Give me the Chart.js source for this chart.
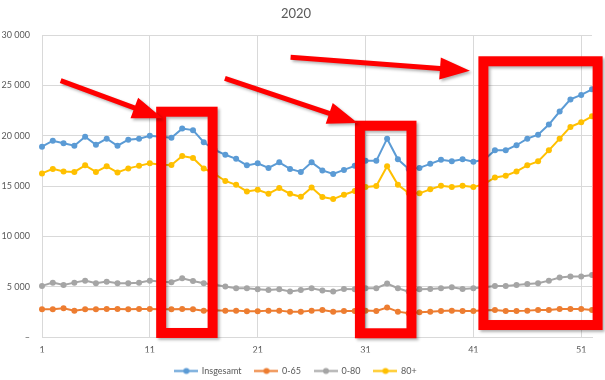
<!DOCTYPE html>
<html><head><meta charset="utf-8">
<script src="https://cdn.jsdelivr.net/npm/chart.js@4/dist/chart.umd.min.js"></script>
<style>html,body{margin:0;padding:0;background:#fff}#wrap{width:605px;height:380px}</style>
</head><body><div id="wrap"><canvas id="c" width="605" height="380"></canvas></div>
<script>
const weeks = ['1','2','3','4','5','6','7','8','9','10','11','12','13','14','15','16','17','18','19','20','21','22','23','24','25','26','27','28','29','30','31','32','33','34','35','36','37','38','39','40','41','42','43','44','45','46','47','48','49','50','51','52'];
const xTickLabels = ['1','11','21','31','41','51'];
const seriesNames = ['Insgesamt','0-65','0-80','80+'];
const insgesamt = [18900,19500,19250,19000,19900,19100,19700,19000,19600,19700,20000,19900,19800,20700,20550,19350,18600,18100,17700,17050,17250,16800,17350,16700,16400,17350,16550,16200,16600,17000,17500,17500,19700,17650,16700,16800,17200,17600,17450,17650,17400,17600,18550,18550,19050,19700,20100,21100,22400,23600,24050,24600];
const age0_65 = [2750,2750,2850,2620,2750,2750,2780,2780,2750,2780,2780,2750,2750,2780,2750,2620,2650,2620,2620,2550,2550,2620,2620,2520,2520,2620,2690,2520,2580,2580,2620,2580,2920,2520,2350,2450,2520,2580,2620,2580,2580,2650,2690,2580,2580,2620,2690,2690,2780,2780,2780,2690];
const age0_80 = [5075,5400,5170,5400,5600,5340,5500,5340,5340,5400,5600,5500,5440,5840,5570,5340,5200,5010,4840,4840,4740,4670,4740,4510,4670,4840,4610,4510,4780,4740,4840,4840,5310,4840,4510,4740,4780,4840,4940,4780,4840,4950,5075,5075,5170,5270,5340,5600,5900,6000,6000,6170];
const age80plus = [16250,16700,16450,16400,17050,16400,16950,16350,16750,17000,17250,17100,17080,17980,17780,16750,16200,15500,15120,14460,14630,14230,14790,14230,13930,14850,13900,13700,14130,14500,14900,15000,16950,15120,14300,14270,14670,15020,14890,15020,14890,15200,15850,16020,16450,17050,17450,18540,19700,20870,21330,21920];
const colors = ['#5B9BD5','#ED7D31','#A5A5A5','#FFC000'];
// annotation boxes: [weekLeft, weekRight, valueTop, valueBottom]
const boxes = [[12.05,16.82,22380,400],[30.48,35.26,20990,370],[41.93,52.52,27390,1190]];
// annotation arrows: [weekStart, valueStart, weekTip, valueTip]
const arrows = [[2.73,25460,12.17,21720],[17.96,25700,30.27,21260],[24.05,27780,40.68,26450]];

const FONT = 'Lato, "Open Sans", sans-serif';
const TXT = '#595959';

function legendIcon(color){
  const c = document.createElement('canvas');
  c.width = 24; c.height = 9;
  const g = c.getContext('2d');
  g.strokeStyle = color; g.lineWidth = 2;
  g.beginPath(); g.moveTo(0,4.5); g.lineTo(24,4.5); g.stroke();
  g.fillStyle = color; g.beginPath(); g.arc(12,4.5,3,0,Math.PI*2); g.fill();
  return c;
}
const icons = colors.map(legendIcon);

const annot = {
  id:'annot',
  afterDraw(chart){
    const {ctx, scales:{x,y}} = chart;
    ctx.save();
    ctx.shadowColor = 'rgba(0,0,0,0.3)';
    ctx.shadowBlur = 3; ctx.shadowOffsetX = 2; ctx.shadowOffsetY = 2;
    ctx.strokeStyle = '#FF0000'; ctx.fillStyle = '#FF0000';
    ctx.lineWidth = 10; ctx.lineJoin = 'miter';
    boxes.forEach(b=>{
      const l = x.getPixelForValue(b[0]-1), r = x.getPixelForValue(b[1]-1);
      const t = y.getPixelForValue(b[2]), bo = y.getPixelForValue(b[3]);
      ctx.strokeRect(l,t,r-l,bo-t);
    });
    arrows.forEach(a=>{
      const x0 = x.getPixelForValue(a[0]-1), y0 = y.getPixelForValue(a[1]);
      const x1 = x.getPixelForValue(a[2]-1), y1 = y.getPixelForValue(a[3]);
      const ang = Math.atan2(y1-y0, x1-x0);
      const hl = 30, hw = 11, sw = 5;
      const cos = Math.cos(ang), sin = Math.sin(ang);
      const bx = x1 - hl*cos, by = y1 - hl*sin;
      ctx.beginPath();
      ctx.moveTo(x0 - sw/2*(-sin), y0 - sw/2*cos);
      ctx.lineTo(bx - sw/2*(-sin), by - sw/2*cos);
      ctx.lineTo(bx - hw*(-sin), by - hw*cos);
      ctx.lineTo(x1, y1);
      ctx.lineTo(bx + hw*(-sin), by + hw*cos);
      ctx.lineTo(bx + sw/2*(-sin), by + sw/2*cos);
      ctx.lineTo(x0 + sw/2*(-sin), y0 + sw/2*cos);
      ctx.closePath();
      ctx.fill();
    });
    ctx.restore();
  }
};

const values = [insgesamt, age0_65, age0_80, age80plus];
new Chart(document.getElementById('c'), {
  type:'line',
  data:{
    labels: weeks,
    datasets: seriesNames.map((n,i)=>({
      label:n, data:values[i], borderColor:colors[i], backgroundColor:colors[i],
      borderWidth:2, pointRadius:3, pointBorderWidth:0, pointBackgroundColor:colors[i],
      tension:0, fill:false
    }))
  },
  options:{
    responsive:false, animation:false, devicePixelRatio:1,
    layout:{padding:{left:0,right:13,top:0,bottom:0}},
    plugins:{
      title:{display:true, text:'2020', color:TXT, font:{family:FONT,size:13,weight:'normal'}, padding:{top:6,bottom:13.4}},
      legend:{position:'bottom', maxHeight:27.5,
        labels:{usePointStyle:true, pointStyleWidth:22, padding:14, color:TXT, font:{family:FONT,size:9},
          generateLabels(chart){
            return chart.data.datasets.map((d,i)=>({text:d.label, pointStyle:icons[i], fillStyle:colors[i], strokeStyle:colors[i], lineWidth:0, fontColor:TXT, datasetIndex:i, hidden:false}));
          }}},
      tooltip:{enabled:false}
    },
    scales:{
      x:{
        grid:{color:(c)=> (c.index%10===0 ? '#d9d9d9' : 'rgba(0,0,0,0)'), drawTicks:false, lineWidth:1},
        border:{color:'#d9d9d9'},
        ticks:{autoSkip:false, maxRotation:0, padding:8, color:TXT, font:{family:FONT,size:9},
          callback(v,i){ const l = weeks[i]; return xTickLabels.includes(l) ? l : ''; }},
        afterFit(s){ s.height = 15.5; }
      },
      y:{
        min:0, max:30000,
        grid:{color:'#d9d9d9', drawTicks:false},
        border:{display:false},
        ticks:{stepSize:5000, padding:12, color:TXT, font:{family:FONT,size:9},
          callback(v){ return v===0 ? '–' : String(v).replace(/\B(?=(\d{3})+(?!\d))/g,' '); }},
        afterFit(s){ s.width = 42; }
      }
    }
  },
  plugins:[annot]
});
</script></body></html>
